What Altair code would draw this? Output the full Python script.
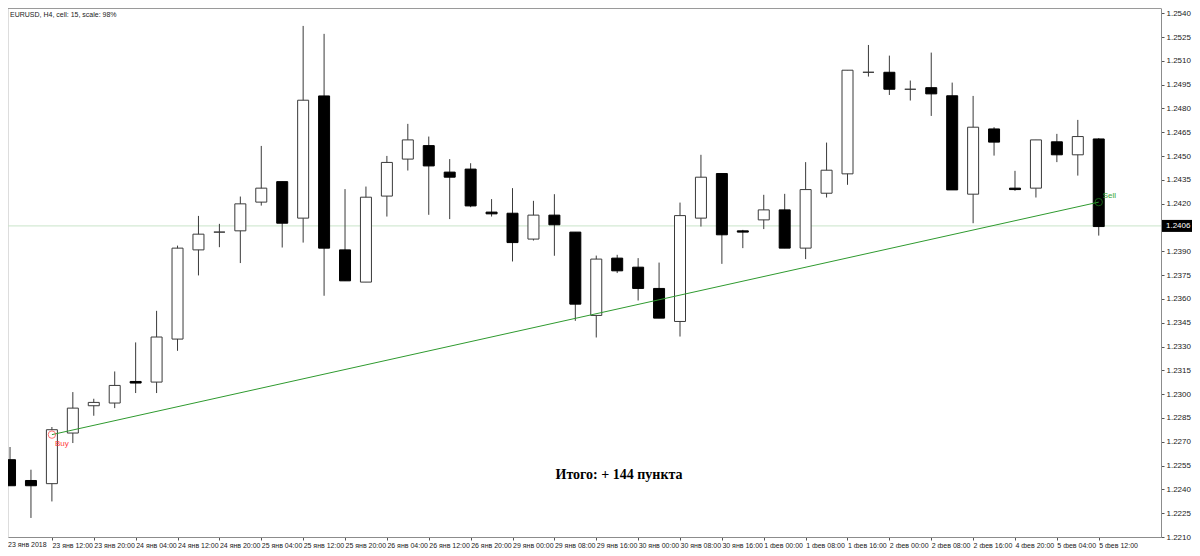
import altair as alt
import pandas as pd

# ---------------- data ----------------
x_labels = ["23 янв 2018", "23 янв 12:00", "23 янв 20:00", "24 янв 04:00", "24 янв 12:00",
            "24 янв 20:00", "25 янв 04:00", "25 янв 12:00", "25 янв 20:00", "26 янв 04:00",
            "26 янв 12:00", "26 янв 20:00", "29 янв 00:00", "29 янв 08:00", "29 янв 16:00",
            "30 янв 00:00", "30 янв 08:00", "30 янв 16:00", "1 фев 00:00", "1 фев 08:00",
            "1 фев 16:00", "2 фев 00:00", "2 фев 08:00", "2 фев 16:00", "4 фев 20:00",
            "5 фев 04:00", "5 фев 12:00"]

opens = [1.22587, 1.22456, 1.22436, 1.22755, 1.22927, 1.22944, 1.23080, 1.23076, 1.23347, 1.23909,
         1.24021, 1.24029, 1.24210, 1.24339, 1.24109, 1.24879, 1.23909, 1.23706, 1.24248, 1.24481,
         1.24566, 1.24399, 1.24418, 1.24147, 1.24140, 1.23977, 1.24128, 1.24021, 1.23496, 1.23857,
         1.23800, 1.23666, 1.23458, 1.24109, 1.24390, 1.24029, 1.24098, 1.24161, 1.23920, 1.24266,
         1.24388, 1.25028, 1.25028, 1.24921, 1.24931, 1.24880, 1.24260, 1.24671, 1.24298, 1.24298,
         1.24590, 1.24508, 1.24608]
highs = [1.22667, 1.22524, 1.22793, 1.23013, 1.22971, 1.23143, 1.23326, 1.23525, 1.23936, 1.24123,
         1.24073, 1.24245, 1.24564, 1.24339, 1.25320, 1.25270, 1.24292, 1.24308, 1.24501, 1.24703,
         1.24623, 1.24481, 1.24455, 1.24229, 1.24298, 1.24218, 1.24260, 1.24021, 1.23873, 1.23878,
         1.23857, 1.23829, 1.24207, 1.24508, 1.24390, 1.24035, 1.24256, 1.24262, 1.24462, 1.24585,
         1.25041, 1.25200, 1.25133, 1.24976, 1.25152, 1.24963, 1.24879, 1.24682, 1.24407, 1.24602,
         1.24640, 1.24728, 1.24613]
lows = [1.22423, 1.22220, 1.22324, 1.22692, 1.22864, 1.22912, 1.23007, 1.23007, 1.23273, 1.23748,
        1.23926, 1.23826, 1.24188, 1.23924, 1.23955, 1.23620, 1.23714, 1.23706, 1.24119, 1.24409,
        1.24130, 1.24103, 1.24178, 1.24119, 1.23836, 1.23968, 1.23872, 1.23462, 1.23357, 1.23763,
        1.23590, 1.23479, 1.23363, 1.24056, 1.23821, 1.23920, 1.24040, 1.23920, 1.23851, 1.24239,
        1.24319, 1.25001, 1.24885, 1.24850, 1.24753, 1.24287, 1.24077, 1.24503, 1.24281, 1.24239,
        1.24462, 1.24377, 1.23999]
closes = [1.22423, 1.22423, 1.22776, 1.22912, 1.22948, 1.23055, 1.23070, 1.23360, 1.23920, 1.24008,
          1.24021, 1.24199, 1.24298, 1.24077, 1.24852, 1.23920, 1.23714, 1.24241, 1.24460, 1.24602,
          1.24438, 1.24367, 1.24186, 1.24136, 1.23955, 1.24128, 1.24067, 1.23567, 1.23851, 1.23777,
          1.23666, 1.23479, 1.24125, 1.24367, 1.24004, 1.24021, 1.24161, 1.23920, 1.24289, 1.24411,
          1.25041, 1.25028, 1.24921, 1.24921, 1.24892, 1.24287, 1.24682, 1.24588, 1.24289, 1.24602,
          1.24508, 1.24623, 1.24056]

y_ticks = [1.2210, 1.2225, 1.2240, 1.2255, 1.2270, 1.2285, 1.2300, 1.2315, 1.2330, 1.2345,
           1.2360, 1.2375, 1.2390, 1.2420, 1.2435, 1.2450, 1.2465, 1.2480, 1.2495, 1.2510,
           1.2525, 1.2540]

trade_index = [2, 52]
trade_price = [1.22745, 1.24210]
trade_kind = ["Buy", "Sell"]

current_price = 1.2406
current_label = "1.2406"
title_text = "EURUSD, H4, cell: 15, scale: 98%"
summary_text = "Итого: + 144 пункта"

# ---------------- layout ----------------
W, H = 1153, 529
PAD_R = 31
FONT = "Liberation Sans"
X_MIN = 0.142
X_PER_PX = 1 / 21.12

n = len(opens)
df = pd.DataFrame({"i": list(range(n)), "open": opens, "high": highs, "low": lows, "close": closes})
df["dir"] = ["up" if c >= o else "down" for o, c in zip(opens, closes)]

trades = pd.DataFrame({"i": trade_index, "p": trade_price, "kind": trade_kind})
cur = pd.DataFrame({"p": [current_price], "lab": [current_label]})

xs = alt.Scale(domain=[X_MIN, X_MIN + W * X_PER_PX], nice=False, zero=False)
ys = alt.Scale(domain=[1.22100, 1.25433], nice=False, zero=False)

label_array = "[" + ",".join("'%s'" % s for s in x_labels) + "]"
x_axis = alt.Axis(values=list(range(2, n, 2)), labelExpr=label_array + "[round(datum.value/2)]",
                  tickSize=3, tickColor="#555555", domainColor="#8c8c8c", labelFontSize=7,
                  labelFont=FONT, labelColor="#222222", labelAlign="left", labelPadding=1,
                  labelFlush=False, labelOverlap=False, labelBound=False, grid=False, title=None)
y_axis = alt.Axis(orient="right", values=y_ticks, format=".4f", tickSize=3, tickColor="#555555",
                  domainColor="#8c8c8c", labelFontSize=8, labelFont=FONT, labelColor="#222222",
                  labelPadding=2, grid=False, title=None, labelFlush=False, labelOverlap=False,
                  labelBound=False)


def X(f):
    return alt.X(f, scale=xs, axis=x_axis)


def Y(f):
    return alt.Y(f, scale=ys, axis=y_axis)


cur_line = alt.Chart(cur).mark_rule(color="#c9e4c9", strokeWidth=1).encode(y=Y("p:Q"))

top_border = alt.Chart(cur).mark_rule(color="#9a9a9a", strokeWidth=1).encode(
    x=alt.value(0), x2=alt.value(W), y=alt.value(0.5))

wicks = alt.Chart(df).mark_rule(color="#3a3a3a", strokeWidth=1, clip=True).encode(
    x=X("i:Q"), y=Y("low:Q"), y2="high:Q")

bodies = alt.Chart(df).mark_bar(size=11, strokeWidth=1, clip=True).encode(
    x=X("i:Q"), y=Y("open:Q"), y2="close:Q",
    fill=alt.Fill("dir:N", scale=alt.Scale(domain=["up", "down"], range=["#ffffff", "#000000"]), legend=None),
    stroke=alt.Stroke("dir:N", scale=alt.Scale(domain=["up", "down"], range=["#3a3a3a", "#000000"]), legend=None))

trend = alt.Chart(trades).mark_line(color="#2f9a2f", strokeWidth=1, clip=True).encode(
    x=X("i:Q"), y=Y("p:Q"))

points = alt.Chart(trades).mark_point(shape="circle", size=55, strokeWidth=1, filled=False).encode(
    x=X("i:Q"), y=Y("p:Q"),
    color=alt.Color("kind:N", scale=alt.Scale(domain=["Buy", "Sell"], range=["#ff3b3b", "#1f8a1f"]), legend=None))

buy_text = alt.Chart(trades).transform_filter("datum.kind == 'Buy'").mark_text(
    align="left", baseline="middle", dx=3, dy=9, fontSize=8, font=FONT, color="#ff3b3b").encode(
    x=X("i:Q"), y=Y("p:Q"), text="kind:N")

sell_text = alt.Chart(trades).transform_filter("datum.kind == 'Sell'").mark_text(
    align="left", baseline="middle", dx=4, dy=-6, fontSize=8, font=FONT, color="#3aa83a").encode(
    x=X("i:Q"), y=Y("p:Q"), text="kind:N")

price_box = alt.Chart(cur).mark_rect(color="#000000", yOffset=-6, y2Offset=6).encode(
    y=Y("p:Q"), y2="p:Q", x=alt.value(W + 1), x2=alt.value(W + PAD_R))

price_text = alt.Chart(cur).mark_text(align="left", baseline="middle", fontSize=8, font=FONT,
                                      color="#ffffff").encode(
    y=Y("p:Q"), x=alt.value(W + 5), text="lab:N")

first_label = alt.Chart(cur).mark_text(align="left", baseline="top", fontSize=7, font=FONT,
                                       color="#222222").encode(
    x=alt.value(0), y=alt.value(H + 4), text=alt.value(x_labels[0]))

title = alt.Chart(cur).mark_text(align="left", baseline="top", fontSize=7, font=FONT,
                                 color="#222222").encode(
    x=alt.value(2), y=alt.value(3), text=alt.value(title_text))

summary = alt.Chart(cur).mark_text(align="center", baseline="middle", fontSize=14,
                                   font="Liberation Serif", fontWeight="bold", color="#000000").encode(
    x=alt.value(611), y=alt.value(467), text=alt.value(summary_text))

chart = alt.layer(cur_line, top_border, wicks, bodies, trend, points, buy_text, sell_text,
                  price_box, price_text, first_label, title, summary).properties(
    width=W, height=H,
    autosize=alt.AutoSizeParams(type="none"),
    padding={"left": 0, "top": 0, "right": PAD_R, "bottom": 11},
).configure_view(stroke=None).configure(background="white")

chart.save("out.html", embed_options={"renderer": "svg", "actions": False})
